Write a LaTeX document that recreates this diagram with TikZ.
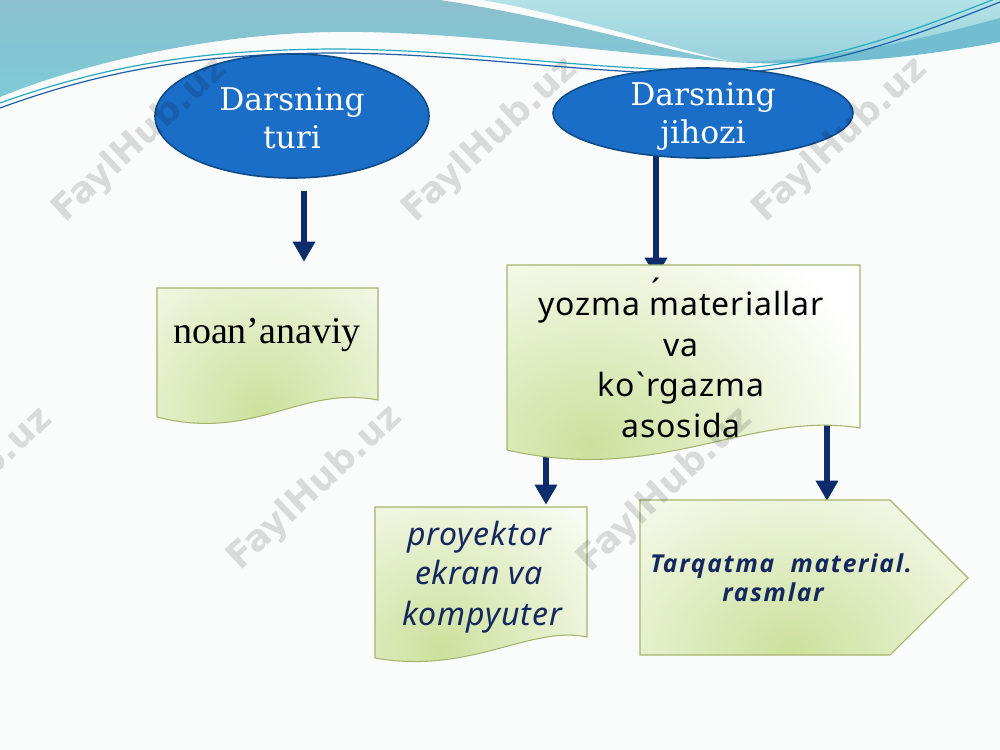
\documentclass[tikz,border=0pt]{standalone}
\usepackage{fontspec}
\setmainfont{DejaVu Serif}
\newfontfamily\serifA{DejaVu Serif}
\newfontfamily\timesA{Liberation Serif}
\newfontfamily\sansA[LetterSpace=3]{Noto Sans}
\newfontfamily\sansB[LetterSpace=7]{Open Sans}
\newfontfamily\wmA{DejaVu Sans}
\usetikzlibrary{shapes.geometric,arrows.meta,calc}
\definecolor{bgc}{HTML}{FAFBFB}
\definecolor{tealA}{HTML}{8BBFCE}
\definecolor{tealB}{HTML}{7DCAD6}
\definecolor{cyanA}{HTML}{B3E2E6}
\definecolor{cyanB}{HTML}{97D0DC}
\definecolor{ribbon}{HTML}{72BDD0}
\definecolor{lineblue}{HTML}{1F5FA8}
\definecolor{lineteal}{HTML}{27A9C2}
\definecolor{ellfill}{HTML}{1B6EC8}
\definecolor{ellborder}{HTML}{0F4C8A}
\definecolor{navy}{HTML}{0C2C6C}
\definecolor{navytext}{HTML}{14275E}
\definecolor{boxborder}{HTML}{A5B56D}
\definecolor{glow}{HTML}{CCE19C}
\tikzset{
  ell/.style={ellipse, draw=ellborder, fill=ellfill, line width=1.2pt, inner sep=0pt},
  anch/.style={rectangle, inner sep=0pt, draw=none},
  flow/.style={draw=navy, line width=5pt, -{Triangle[width=16pt,length=15pt]}},
  boxline/.style={draw=boxborder, line width=0.8pt},
  etext/.style={text=white, font=\serifA\fontsize{23.5}{28}\selectfont, anchor=base, inner sep=0pt},
  btext/.style={text=black, font=\sansA\fontsize{24}{30}\selectfont, anchor=base, inner sep=0pt},
  itext/.style={text=navytext, font=\sansA\itshape\fontsize{24}{30}\selectfont, anchor=base, inner sep=0pt},
  ptext/.style={text=navytext, font=\sansB\bfseries\itshape\fontsize{18.5}{21}\selectfont, anchor=base, inner sep=0pt},
  wm/.style={text=black, text opacity=0.13, font=\wmA\bfseries\fontsize{27}{27}\selectfont, rotate=43}
}
\begin{document}
\begin{tikzpicture}[x=0.75pt,y=-0.75pt]
\useasboundingbox (0,0) rectangle (1000,750);
\clip (0,0) rectangle (1000,750);
\fill[bgc] (0,0) rectangle (1000,750);
% top waves
\shade[top color=tealA, bottom color=tealB] (0,0) -- (440,0) .. controls (560,18) and (660,50) .. (733,62)
  .. controls (600,52) and (450,30) .. (330,32) .. controls (220,34) and (90,60) .. (0,97) -- cycle;
\shade[top color=cyanA, bottom color=cyanB] (482,0) -- (1000,0) -- (1000,32) .. controls (900,55) and (800,64) .. (733,62)
  .. controls (660,45) and (570,15) .. (482,0) -- cycle;
\fill[ribbon] (733,62) .. controls (820,62) and (920,40) .. (1000,18) -- (1000,42) .. controls (930,55) and (830,68) .. (733,62) -- cycle;
\draw[lineblue, line width=0.9pt] (0,108) .. controls (120,64) and (220,54) .. (330,53) .. controls (450,53) and (560,70) .. (680,74) .. controls (800,78) and (900,42) .. (1000,2);
\draw[lineteal, line width=0.9pt] (0,103) .. controls (120,60) and (220,50) .. (330,49) .. controls (450,49) and (560,66) .. (680,70) .. controls (800,74) and (900,36) .. (1000,-3);

% anchor nodes
\node[anch, minimum width=165.75pt, minimum height=96.75pt] (b1) at (267.5,352.5) {};
\node[anch, minimum width=264.75pt, minimum height=148.5pt] (b2) at (683.5,364) {};
\node[anch, minimum width=159pt, minimum height=118.5pt] (b3) at (481,586) {};
\node[anch, minimum width=246pt, minimum height=116.25pt] (b4) at (804,577.5) {};
\node[ell, draw=none, fill=none, minimum width=205.5pt, minimum height=93pt] (e1) at (292,116) {};
\node[ell, draw=none, fill=none, minimum width=225pt, minimum height=67.5pt] (e2) at (703,113) {};

% connectors
\draw[flow] ($(e1.south)+(12,12)$) -- ($(b1.north)+(36.5,-26)$);
\draw[flow] ($(e2.south)+(-47,-8)$) -- ($(b2.north)+(-27.5,13)$);
\draw[flow] ($(b2.south)+(-137.5,-13)$) -- ($(b3.north)+(65,-2)$);
\draw[flow] ($(b2.south)+(143.5,-43)$) -- ($(b4.north)+(23,1)$);

% ellipses
\node[ell, minimum width=205.5pt, minimum height=93pt] at (e1.center) {};
\node[ell, minimum width=225pt, minimum height=67.5pt] at (e2.center) {};
\node[etext] (e1t1) at (292,110) {Darsning};
\node[etext] (e1t2) at (292,148) {turi};
\node[etext] (e2t1) at (703,105) {Darsning};
\node[etext] (e2t2) at (703,143) {jihozi};

% box 1
\begin{scope}
\clip (157,288) -- (378,288) -- (378,400) .. controls (300,385) and (255,442) .. (157,417) -- cycle;
\fill[white] (150,280) rectangle (385,450);
\shade[inner color=glow, outer color=white] (262,412) ellipse (230 and 230);
\end{scope}
\draw[boxline] (157,288) -- (378,288) -- (378,400) .. controls (300,385) and (255,442) .. (157,417) -- cycle;
\node[text=black, font=\timesA\fontsize{28.5}{30}\selectfont, anchor=base, inner sep=0pt] (t1) at (267,343) {noan’anaviy};

% box 2
\begin{scope}
\clip (507,265) -- (860,265) -- (860,428) .. controls (750,410) and (660,485) .. (507,450) -- cycle;
\fill[white] (500,260) rectangle (870,470);
\shade[inner color=glow, outer color=white] (590,445) ellipse (300 and 250);
\end{scope}
\draw[boxline] (507,265) -- (860,265) -- (860,428) .. controls (750,410) and (660,485) .. (507,450) -- cycle;
\node[btext] (t2m) at (656,302) {´};
\node[btext] (t2a) at (681,315) {yozma materiallar};
\node[btext] (t2b) at (681,356) {va};
\node[btext] (t2c) at (681,396.5) {ko`rgazma};
\node[btext] (t2d) at (681,437) {asosida};

% box 3
\begin{scope}
\clip (375,507) -- (587,507) -- (587,637) .. controls (530,625) and (470,675) .. (375,658) -- cycle;
\fill[white] (370,500) rectangle (595,680);
\shade[inner color=glow, outer color=white] (440,650) ellipse (230 and 220);
\end{scope}
\draw[boxline] (375,507) -- (587,507) -- (587,637) .. controls (530,625) and (470,675) .. (375,658) -- cycle;
\node[itext] (t3a) at (479,545) {proyektor};
\node[itext] (t3b) at (479,584) {ekran va};
\node[itext] (t3c) at (482,625) {kompyuter};

% box 4
\begin{scope}
\clip (640,500) -- (890,500) -- (968,578) -- (890,655) -- (640,655) -- cycle;
\fill[white] (635,495) rectangle (975,660);
\shade[inner color=glow, outer color=white] (790,650) ellipse (300 and 230);
\end{scope}
\draw[boxline] (640,500) -- (890,500) -- (968,578) -- (890,655) -- (640,655) -- cycle;
\node[ptext] (t4a) at (781,572) {Tarqatma\ \ material.};
\node[ptext] (t4b) at (773,601) {rasmlar};

% watermarks
\node[wm] (w1) at (140,140) {FaylHub.uz};
\node[wm] (w2) at (490,140) {FaylHub.uz};
\node[wm] (w3) at (840,140) {FaylHub.uz};
\node[wm] (w4) at (-35,490) {FaylHub.uz};
\node[wm] (w5) at (315,488) {FaylHub.uz};
\node[wm] (w6) at (665,490) {FaylHub.uz};
\end{tikzpicture}
\end{document}
